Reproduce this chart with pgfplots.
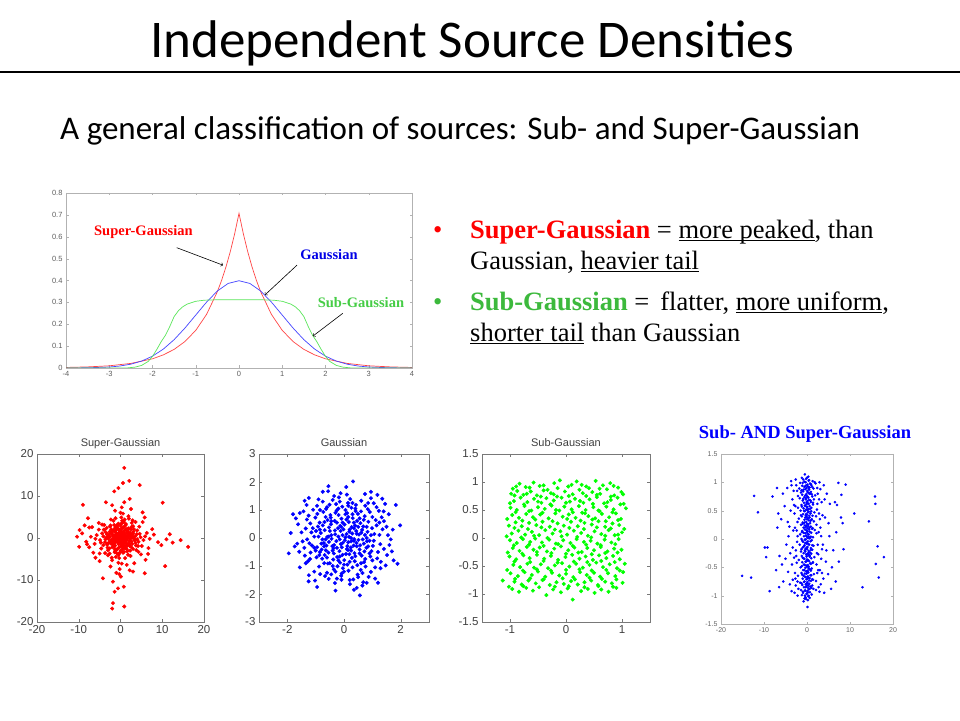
\documentclass[border=0pt]{standalone}
\usepackage{pgfplots}
\pgfplotsset{compat=1.18}
\usepackage{fontspec}
\setmainfont{Liberation Serif}
\newfontfamily\calibri{Carlito}
\newfontfamily\arial{Liberation Sans}
\newcommand{\uline}[1]{\underline{\smash{#1}}}

\definecolor{supred}{RGB}{255,0,0}
\definecolor{subgreen}{RGB}{60,185,60}
\definecolor{lblgreen}{RGB}{70,205,70}
\definecolor{lblblue}{RGB}{0,0,230}
\definecolor{curvered}{RGB}{255,70,70}
\definecolor{curveblue}{RGB}{70,70,255}
\definecolor{curvegreen}{RGB}{90,230,90}
\definecolor{axgray}{RGB}{120,120,120}
\definecolor{lblgray}{RGB}{64,64,64}

\pgfplotsset{
  mat/.style={
    scale only axis, anchor=south west,
    axis line style={draw=axgray}, tick style={draw=axgray},
    tick align=inside, major tick length=3pt,
    ticklabel style={font=\arial\fontsize{11.5}{12}\selectfont, text=lblgray},
    /pgf/number format/assume math mode=true,
    title style={font=\arial\fontsize{11}{12}\selectfont, text=lblgray,
      at={(0.5,1)}, anchor=base, inner sep=0pt, yshift=1pt},
  },
  dots/.style={only marks, mark=*, mark size=1.8pt},
}

% density curves
\pgfplotstableread{
x y
-4 0.0001
-3.5 0.0009
-3 0.0044
-2.75 0.0091
-2.5 0.0175
-2.25 0.0317
-2 0.0540
-1.75 0.0863
-1.5 0.1295
-1.25 0.1826
-1 0.2420
-0.75 0.3011
-0.5 0.3521
-0.25 0.3867
0 0.3989
0.25 0.3867
0.5 0.3521
0.75 0.3011
1 0.2420
1.25 0.1826
1.5 0.1295
1.75 0.0863
2 0.0540
2.25 0.0317
2.5 0.0175
2.75 0.0091
3 0.0044
3.5 0.0009
4 0.0001
}\gaussdata

\pgfplotstableread{
x y
-4 0.0025
-3.5 0.005
-3 0.010
-2.5 0.021
-2 0.042
-1.75 0.060
-1.5 0.085
-1.25 0.121
-1 0.172
-0.75 0.245
-0.5 0.349
-0.4 0.402
-0.3 0.463
-0.2 0.533
-0.1 0.614
0 0.707
0.1 0.614
0.2 0.533
0.3 0.463
0.4 0.402
0.5 0.349
0.75 0.245
1 0.172
1.25 0.121
1.5 0.085
1.75 0.060
2 0.042
2.5 0.021
3 0.010
3.5 0.005
4 0.0025
}\superdata

\pgfplotstableread{
x y
-4 0
-2.6 0
-2.4 0.004
-2.25 0.012
-2.1 0.030
-2 0.053
-1.9 0.085
-1.8 0.120
-1.7 0.150
-1.6 0.190
-1.5 0.235
-1.4 0.262
-1.3 0.280
-1.2 0.292
-1 0.305
-0.8 0.310
-0.5 0.312
0 0.312
0.5 0.312
0.8 0.310
1 0.305
1.2 0.292
1.3 0.280
1.4 0.262
1.5 0.235
1.6 0.190
1.7 0.150
1.8 0.120
1.9 0.085
2 0.053
2.1 0.030
2.25 0.012
2.4 0.004
2.6 0
4 0
}\subdata

\begin{document}
\begin{tikzpicture}[x=1pt,y=1pt]
\path[use as bounding box, fill=white] (0,0) rectangle (960,720);

% title and subtitle
\node[anchor=base, inner sep=0pt, font=\calibri\fontsize{53}{60}\selectfont] at (472,662) {Independent Source Densities};
\draw[line width=2pt] (0,648) -- (960,648);
\node[anchor=base west, inner sep=0pt, font=\calibri\fontsize{33}{38}\selectfont] at (60,580) {A general classification of sources: Sub- and Super-Gaussian};

% bullets
\begin{scope}[every node/.style={anchor=base west, inner sep=0pt, font=\fontsize{26.5}{31}\selectfont}]
\node[text=supred] at (433,481) {•};
\node at (470,481) {\textbf{\color{supred}Super-Gaussian} = \uline{more peaked}, than};
\node at (470,450) {Gaussian, \uline{heavier tail}};
\node[text=subgreen] at (433,409) {•};
\node at (470,409) {\textbf{\color{subgreen}Sub-Gaussian} =\, flatter, \uline{more uniform},};
\node at (470,378) {\uline{shorter tail} than Gaussian};
\end{scope}

% density plot
\begin{axis}[mat, at={(66pt,352pt)}, width=346pt, height=175pt,
  xmin=-4, xmax=4, ymin=0, ymax=0.8,
  xtick={-4,-3,-2,-1,0,1,2,3,4},
  ytick={0,0.1,0.2,0.3,0.4,0.5,0.6,0.7,0.8},
  axis line style={draw=gray!60}, tick style={draw=gray!60},
  major tick length=2.5pt,
  ticklabel style={font=\arial\fontsize{7.5}{8}\selectfont, text=gray!75!black}]
\addplot[curvered, line width=0.7pt] table {\superdata};
\addplot[curveblue, line width=0.7pt] table {\gaussdata};
\addplot[curvegreen, line width=0.7pt] table {\subdata};
\node[text=supred, font=\bfseries\fontsize{14.5}{16}\selectfont] at (axis cs:-2.21,0.62) {Super-Gaussian};
\node[text=lblblue, font=\bfseries\fontsize{14.5}{16}\selectfont] at (axis cs:2.08,0.517) {Gaussian};
\node[text=lblgreen, font=\bfseries\fontsize{14.5}{16}\selectfont] at (axis cs:2.82,0.297) {Sub-Gaussian};
\draw[->, line width=0.6pt] (axis cs:-1.44,0.55) -- (axis cs:-0.37,0.47);
\draw[->, line width=0.6pt] (axis cs:1.34,0.47) -- (axis cs:0.6,0.334);
\draw[->, line width=0.6pt] (axis cs:2.4,0.25) -- (axis cs:1.71,0.146);
\end{axis}

% super-gaussian scatter
\begin{axis}[mat, at={(37pt,98pt)}, width=167pt, height=168pt,
  xmin=-20, xmax=20, ymin=-20, ymax=20,
  xtick={-20,-10,0,10,20}, ytick={-20,-10,0,10,20},
  title={Super-Gaussian}]
\addplot[dots, color=supred] coordinates {
(0,0) (0.4,0.2) (-0.3,0.5) (0.8,-0.3) (-0.9,-0.2) (0.2,-0.7) (-0.1,1.0) (1.2,0.6) (-1.3,0.7) (0.6,-1.2)
(-0.6,-1.1) (1.4,-0.5) (-1.5,0.1) (0.1,1.4) (-0.4,-1.5) (0.9,1.1) (-1.0,1.2) (1.1,-1.0) (-1.1,-0.9) (0.5,0.8)
(-0.7,0.1) (0.3,-0.2) (-0.2,-0.4) (1.0,0.1) (-0.5,0.9) (0.7,-0.6) (-1.2,-0.4) (0.0,0.6) (0.2,1.2) (-0.8,-0.8)
(2.0,0.3) (-2.1,-0.4) (0.3,2.2) (-0.4,-2.3) (1.8,1.6) (-1.7,1.9) (1.6,-1.8) (-1.9,-1.6) (2.6,-0.8) (-2.7,0.9)
(0.9,2.7) (-1.0,-2.8) (2.4,1.2) (-2.3,-1.3) (1.3,-2.4) (-1.2,2.5) (2.9,0.1) (-2.9,-0.2) (0.0,2.9) (0.1,-3.0)
(2.2,-1.9) (-2.2,2.0) (1.9,2.3) (-2.0,-2.2) (1.7,0.0) (-1.6,0.4) (0.4,-1.8) (-0.2,1.7) (2.5,2.0) (-2.6,1.5)
(1.5,-2.7) (-1.4,-2.6) (2.8,-1.4) (-2.9,-1.2) (0.7,-2.1) (-0.6,2.3) (1.1,1.9) (-1.3,-1.8) (2.1,-0.6) (-1.9,0.7)
(0.15,0.35) (-0.35,-0.15) (0.55,-0.45) (-0.65,0.45) (0.25,0.85) (-0.15,-0.95) (0.95,0.45) (-0.95,0.55) (0.45,-0.95) (-0.45,-0.65)
(1.25,-0.25) (-1.25,0.15) (0.05,1.75) (0.15,-2.0) (1.5,1.3) (-1.5,-1.3) (1.4,-1.4) (-1.3,1.5) (2.3,0.6) (-2.4,-0.7)
(0.6,2.5) (-0.7,-2.6) (2.0,-1.2) (-2.1,1.1) (1.0,-1.9) (-1.0,2.0) (0.85,-0.85) (-0.85,0.95) (0.35,0.05) (-0.05,-0.25)
(0.65,0.35) (-0.55,-0.35) (1.6,0.45) (-1.7,-0.15) (0.5,-1.55) (-0.3,1.3) (1.9,0.9) (-2.0,-0.9) (0.9,-2.4) (-0.8,2.8)
(2.7,0.6) (-2.8,0.3) (3.0,1.0) (-3.1,-1.4) (1.2,3.0) (-1.3,-3.1) (0.6,-3.5) (-0.5,3.4) (3.6,-1.2) (-3.5,1.3)
(2.3,-3.0) (-2.4,3.0) (3.0,2.8) (-3.0,-2.9) (1.1,0.4) (-0.4,1.1) (0.2,-1.3) (-1.1,-0.1) (0.0,-0.5) (0.5,0.0)
(-0.2,0.2) (0.7,1.5) (-1.6,-0.6) (1.3,-0.9)
(2.2,1.0) (-2.3,-1.0) (1.0,-2.2) (-1.1,2.3) (3.3,-0.2) (-3.4,0.1) (0.2,3.4) (-0.1,-3.4) (2.6,2.6) (-2.7,-2.5)
(2.6,-2.2) (-2.5,2.7) (4.0,-0.3) (-4.1,0.4) (0.4,4.1) (-0.5,-4.0) (3.1,1.5) (-3.2,-1.6) (1.6,-3.2) (-1.5,3.1)
(4.6,1.0) (-4.7,-1.1) (1.1,-4.8) (-1.2,4.7) (3.6,3.8) (-3.7,-3.6) (5.1,-1.9) (-5.2,2.0) (1.9,5.2) (-2.0,-5.3)
(5.9,0.4) (-6.0,-0.2) (0.0,6.0) (0.3,-6.1) (4.3,-3.3) (-4.4,3.2) (2.9,4.2) (-3.0,-4.1) (1.4,2.1) (-1.5,-2.0)
(2.1,-1.5) (-2.0,1.4) (0.8,3.8) (-0.9,-3.6) (3.7,-1.8) (-3.8,1.9) (2.4,-0.1) (-2.5,0.3) (0.5,-2.6) (-0.4,2.0)
(3.5,0.4) (-3.6,-0.3) (0.5,3.7) (-0.4,-3.8) (3.2,2.1) (-3.3,2.4) (3.0,-2.6) (-3.1,-2.3) (4.3,-0.9) (-4.4,1.1)
(1.0,4.4) (-1.1,-4.5) (4.0,1.8) (-4.1,-1.7) (1.8,-4.0) (-1.7,4.1) (4.8,0.2) (-4.9,-0.5) (0.2,4.9) (-0.3,-4.8)
(3.8,-2.9) (-3.9,3.1) (2.7,3.6) (-2.6,-3.7) (3.4,-0.6) (-3.2,0.8) (0.8,-3.3) (-0.7,3.2) (4.5,2.7) (-4.6,-2.5)
(2.4,-4.3) (-2.3,4.4) (3.9,0.9) (-3.7,-1.0) (1.3,3.3) (-1.4,-3.4) (4.2,-1.9) (-4.0,2.0) (2.0,4.6) (-2.1,-4.7)
(5.5,-0.5) (-5.7,0.7) (0.6,5.8) (-0.5,-5.9) (6.3,1.2) (-6.2,-1.4) (1.5,-6.4) (-1.3,6.5) (7.0,-0.2) (-7.1,0.3)
(0.3,7.3) (-0.2,-7.4) (5.3,3.8) (-5.2,3.6) (4.9,-3.9) (-5.0,-3.7) (8.0,0.8) (-8.2,-0.9) (0.9,8.5) (-1.0,-8.3)
(6.7,-2.4) (-6.8,2.6) (2.5,6.9) (-2.4,-6.8) (7.6,2.1) (-7.5,-2.2) (2.2,-7.7) (-2.0,7.8) (5.8,4.9) (-6.0,-4.7)
(9.0,-1.0) (-9.2,1.1) (-8.6,3.0) (6.0,-5.2) (3.3,-6.0)
(0.9,16.7) (2.1,13.6) (0.6,13.1) (4.6,12.6) (-0.5,11.9) (-1.5,11.1) (-9.0,7.9) (10.1,8.4) (2.2,9.3) (-3.5,8.5)
(5.3,6.1) (-7.8,4.7) (-9.8,1.9) (-10.4,0.3) (-9.9,-2.1) (16.2,-2.1) (14.4,-0.5) (11.8,0.9) (12.5,-1.1) (9.8,-1.7)
(10.7,-6.7) (5.8,-8.4) (6.6,-3.8) (-4.2,-9.6) (-1.8,-10.4) (-1.4,-12.8) (-0.6,-12.0) (0.8,-11.6) (-1.8,-15.5) (-2.0,-16.8)
(0.9,-16.3) (-0.3,-8.6) (0.1,-9.2) (-7.5,2.5) (-6.5,-3.5) (3.0,-8.0) (-5.0,-5.5) (11.0,-0.3) (-8.0,-1.5)
};
\end{axis}

% gaussian scatter
\begin{axis}[mat, at={(259pt,98pt)}, width=170pt, height=168pt,
  xmin=-3, xmax=3, ymin=-3, ymax=3,
  xtick={-2,0,2}, ytick={-3,-2,-1,0,1,2,3},
  title={Gaussian}]
\addplot[dots, color=blue] coordinates {
(0.32,2.02) (-0.56,1.67) (0.74,1.57) (1.18,1.54) (1.83,1.18) (-1.88,0.18) (-1.74,-0.30) (-1.56,-1.05) (-1.24,-1.33) (0.56,-2.05)
(1.89,-0.92) (1.47,-0.98) (1.69,-0.48) (1.72,0.30) (1.41,0.60) (0.80,-1.60) (0.68,-1.58) (-0.32,-1.61) (-0.54,-1.46) (-0.09,-1.49)
(-1.24,1.43) (-1.39,1.33) (-1.56,0.89)
(0.05,0.02) (-0.21,0.35) (0.44,-0.18) (-0.62,-0.27) (0.31,0.71) (-0.15,-0.66) (0.83,0.22) (-0.92,0.41) (0.12,-0.95) (0.58,0.53)
(-0.48,0.82) (0.97,-0.47) (-0.77,-0.74) (0.26,1.08) (-1.05,0.05) (1.12,0.64) (-0.36,-1.12) (0.71,-0.86) (-1.18,-0.52) (0.02,0.48)
(-0.45,0.10) (0.37,-0.54) (-0.11,-0.22) (0.19,0.23) (0.66,-0.05) (-0.69,0.57) (0.91,0.93) (-0.28,1.21) (1.28,-0.22) (-1.31,0.66)
(0.48,-1.31) (-0.88,-1.02) (1.05,1.24) (-0.14,-0.88) (0.35,0.35) (-0.55,-0.52) (0.79,-0.35) (-0.33,0.61) (0.14,-0.43) (-0.82,0.18)
(1.36,0.31) (-1.46,-0.12) (0.22,1.39) (-0.08,-1.27) (0.95,-1.21) (-1.09,1.01) (1.52,-0.61) (-1.27,-0.83) (0.61,1.33) (-0.67,-1.36)
(0.03,-0.08) (-0.19,0.82) (0.53,0.12) (-0.41,-0.29) (0.28,-0.71) (-0.95,-0.33) (0.86,0.58) (-0.63,1.04) (1.17,-0.73) (-1.01,0.73)
(0.41,0.96) (-0.23,-1.01) (0.99,0.35) (-0.76,-0.05) (0.09,0.66) (-0.38,-0.77) (0.62,-0.63) (-0.53,0.38) (1.23,0.97) (-1.35,0.34)
(0.16,-1.17) (-0.06,1.12) (0.73,0.78) (-0.87,-0.61) (1.41,-0.39) (-1.22,-0.19) (0.47,-0.97) (-0.51,1.19) (0.18,0.04) (-0.27,-0.11)
(0.39,0.45) (-0.12,0.25) (0.24,-0.34) (-0.71,-0.18) (0.81,-0.12) (-0.58,0.64) (0.11,0.89) (-0.36,-0.55) (0.55,-0.41) (-0.99,0.25)
(1.07,0.14) (-0.18,1.45) (0.33,-1.48) (-1.43,0.95) (1.29,-1.08) (-1.62,0.49) (1.58,0.85) (0.87,-1.39) (-0.84,-1.29) (0.07,-0.57)
(-0.46,0.49) (0.64,0.29) (-0.24,-0.68) (0.46,0.61) (-0.64,-0.44) (0.93,-0.66) (-0.94,0.86) (0.25,-0.12) (-0.02,0.31) (0.12,-0.29)
(-0.31,0.13) (0.49,0.86) (-0.73,0.93) (0.76,-1.02) (-0.57,-0.91) (1.15,0.45) (-1.13,-0.27) (0.01,-0.79) (-0.09,0.69) (0.68,0.41)
(-0.44,-0.03) (0.29,0.16) (-0.16,-0.47) (0.57,-0.26) (-0.86,0.55) (1.02,-0.28) (-0.26,0.98) (0.38,-0.83) (-0.68,-0.61) (0.84,1.03)
(-0.97,-0.69) (1.25,0.11) (-1.19,0.52) (0.14,1.25) (-0.04,-1.08) (0.59,-1.14) (-0.40,1.36) (1.33,0.74) (-1.38,-0.63) (0.42,1.18)
(-0.60,-1.24) (1.60,-0.25) (-1.58,-0.49) (0.21,-1.65) (-0.12,1.60) (1.10,-1.45) (-1.02,-1.52) (1.45,1.22) (-1.32,1.18) (0.95,1.42)
(-0.90,1.38) (1.98,0.45) (-1.95,-0.55) (0.08,1.82) (0.45,-1.78) (-0.30,-1.88) (1.20,-1.60) (-1.70,0.70) (-0.75,1.65) (1.55,0.10)
(-0.20,0.05) (0.09,0.14) (0.51,-0.07) (-0.53,-0.14) (0.17,0.57) (-0.08,-0.33) (0.34,-0.27) (-0.32,0.27) (0.61,0.19) (-0.47,0.73)
(0.72,-0.48) (-0.79,-0.41) (0.43,0.25) (-0.13,0.43) (0.36,-0.04) (-0.04,-0.17) (0.27,0.39) (-0.37,-0.37) (0.19,-0.58) (-0.59,0.04)
(0.74,0.11) (-0.68,0.28)
(0.15,-0.15) (-0.25,0.55) (0.55,0.70) (-0.70,-0.90) (0.90,-0.10) (-0.10,-1.35) (0.30,-1.05) (-1.00,-0.45) (1.20,-0.50) (-0.35,1.50)
(0.65,-1.70) (-0.95,1.15) (1.40,0.95) (-1.50,0.20) (0.05,1.00) (0.80,0.40) (-0.50,0.25) (0.20,-0.85) (-0.80,-0.20) (0.45,0.15)
(-0.05,-0.60) (0.35,0.55) (-0.60,-0.70) (0.70,-0.20) (-0.30,0.90) (1.00,0.75) (-1.20,-0.75) (0.10,1.55) (0.50,-1.40) (-0.45,-1.30)
(1.30,-0.85) (-1.10,0.35) (0.85,1.25) (-0.75,1.30) (0.25,-0.45) (-0.20,-0.80) (0.60,0.95) (-0.90,0.05) (1.10,-1.05) (-0.25,-1.45)
(0.40,-0.65) (-0.65,0.75) (0.95,0.10) (-0.10,0.40) (0.15,0.75) (-0.40,-0.45) (0.75,-0.75) (-0.55,0.05) (0.30,1.25) (-0.85,-0.50)
(1.50,0.40) (-1.40,-0.35) (0.00,-1.20) (-0.15,1.30) (0.65,-1.25) (-1.25,0.80) (1.15,1.10) (-1.05,-1.20) (0.50,0.40) (-0.35,-0.25)
(0.20,0.30) (-0.05,0.10) (0.10,-0.40) (-0.50,-0.90) (0.90,-0.55) (-0.75,0.45) (0.40,1.05) (-0.30,-1.20) (0.80,0.00) (-1.30,-0.05)
(1.65,-0.05) (-1.65,-0.20) (0.35,-1.85) (-0.55,1.85) (1.35,1.40) (-1.25,-1.55) (1.75,-0.80) (-1.80,0.85) (0.95,1.65) (-0.95,-1.75)
(0.55,-0.55) (-0.45,0.60) (0.25,0.00) (-0.15,-0.05) (0.05,0.85) (-0.65,-0.05) (0.70,0.65) (-0.25,-0.35) (0.45,-0.30) (-0.85,0.30)
(1.05,-0.10) (-1.15,0.20) (0.15,1.15) (0.00,-0.95) (0.60,-0.90) (-0.60,1.10) (1.25,0.55) (-1.35,-0.90) (0.35,-0.10) (-0.05,0.55)
(0.85,-0.30) (-0.70,-0.30) (0.30,0.85) (-0.40,-1.00) (0.75,1.15) (-0.85,1.00) (1.00,-0.80) (-1.05,-0.35) (0.20,-1.50) (-0.20,1.05)
};
\end{axis}

% sub-gaussian scatter
\begin{axis}[mat, at={(482pt,98pt)}, width=168pt, height=168pt,
  xmin=-1.5, xmax=1.5, ymin=-1.5, ymax=1.5,
  xtick={-1,0,1}, ytick={-1.5,-1,-0.5,0,0.5,1,1.5},
  title={Sub-Gaussian}]
\addplot[dots, color=green] coordinates {
(-0.95,0.88) (-0.83,0.97) (-0.72,0.91) (-0.58,0.99) (-0.47,0.93) (-0.33,0.86) (-0.21,0.98) (-0.11,1.03) (0.04,0.92) (0.19,1.01) (0.28,0.95) (0.41,0.89) (0.53,1.02) (0.66,0.94) (0.79,0.98) (0.93,0.90)
(-0.98,0.79) (-0.87,0.84) (-0.76,0.77) (-0.63,0.83) (-0.52,0.76) (-0.40,0.85) (-0.27,0.80) (-0.16,0.74) (-0.02,0.83) (0.12,0.78) (0.24,0.86) (0.36,0.75) (0.47,0.82) (0.61,0.79) (0.73,0.87) (0.86,0.76) (0.99,0.82)
(-0.93,0.66) (-0.81,0.72) (-0.69,0.64) (-0.57,0.70) (-0.44,0.63) (-0.35,0.71) (-0.22,0.67) (-0.08,0.72) (0.07,0.65) (0.16,0.70) (0.31,0.63) (0.42,0.69) (0.55,0.73) (0.68,0.62) (0.80,0.68) (0.92,0.72) (1.03,0.61)
(-0.99,0.54) (-0.88,0.50) (-0.74,0.57) (-0.62,0.49) (-0.50,0.55) (-0.38,0.52) (-0.26,0.58) (-0.12,0.49) (-0.03,0.56) (0.10,0.51) (0.23,0.57) (0.35,0.50) (0.49,0.55) (0.60,0.48) (0.72,0.56) (0.85,0.51) (1.07,0.53)
(-0.96,0.41) (-0.84,0.36) (-0.71,0.43) (-0.59,0.37) (-0.46,0.42) (-0.31,0.35) (-0.19,0.44) (-0.06,0.38) (0.05,0.42) (0.17,0.36) (0.29,0.45) (0.40,0.39) (0.52,0.35) (0.64,0.43) (0.77,0.37) (0.89,0.44) (0.98,0.34)
(-1.02,0.22) (-0.90,0.28) (-0.79,0.21) (-0.66,0.27) (-0.53,0.23) (-0.42,0.29) (-0.29,0.20) (-0.15,0.26) (-0.04,0.22) (0.09,0.29) (0.21,0.21) (0.33,0.27) (0.46,0.24) (0.58,0.30) (0.70,0.20) (0.83,0.26) (0.95,0.23)
(-0.97,0.08) (-0.85,0.13) (-0.73,0.06) (-0.61,0.11) (-0.48,0.05) (-0.37,0.14) (-0.24,0.08) (-0.10,0.12) (0.02,0.06) (0.14,0.13) (0.27,0.09) (0.39,0.04) (0.51,0.12) (0.63,0.07) (0.76,0.14) (0.87,0.05) (1.00,0.10)
(-1.00,-0.04) (-0.88,-0.09) (-0.77,-0.02) (-0.64,-0.07) (-0.55,-0.01) (-0.43,-0.08) (-0.30,-0.03) (-0.18,-0.10) (-0.05,-0.04) (0.08,-0.09) (0.19,-0.02) (0.32,-0.07) (0.44,-0.05) (0.56,-0.10) (0.69,-0.03) (0.81,-0.08) (0.94,-0.02)
(-0.95,-0.18) (-0.83,-0.23) (-0.70,-0.16) (-0.58,-0.21) (-0.47,-0.17) (-0.34,-0.24) (-0.21,-0.19) (-0.09,-0.15) (0.04,-0.22) (0.15,-0.17) (0.28,-0.25) (0.38,-0.18) (0.50,-0.22) (0.62,-0.16) (0.74,-0.24) (0.86,-0.19) (0.99,-0.21)
(-1.01,-0.33) (-0.89,-0.38) (-0.76,-0.31) (-0.65,-0.36) (-0.52,-0.30) (-0.39,-0.37) (-0.27,-0.32) (-0.14,-0.39) (-0.01,-0.34) (0.11,-0.30) (0.24,-0.37) (0.35,-0.33) (0.48,-0.39) (0.59,-0.31) (0.72,-0.36) (0.84,-0.32) (0.96,-0.38)
(-0.94,-0.48) (-0.82,-0.52) (-0.69,-0.46) (-0.57,-0.53) (-0.45,-0.47) (-0.32,-0.54) (-0.20,-0.49) (-0.07,-0.45) (0.06,-0.51) (0.18,-0.46) (0.30,-0.53) (0.42,-0.48) (0.54,-0.44) (0.66,-0.52) (0.78,-0.47) (0.91,-0.54) (1.05,-0.46)
(-0.99,-0.63) (-0.86,-0.68) (-0.74,-0.61) (-0.61,-0.66) (-0.50,-0.60) (-0.37,-0.69) (-0.25,-0.62) (-0.12,-0.67) (0.00,-0.64) (0.13,-0.70) (0.25,-0.61) (0.37,-0.66) (0.50,-0.62) (0.61,-0.69) (0.75,-0.63) (0.88,-0.68) (1.02,-0.61)
(-1.13,-0.76) (-0.92,-0.78) (-0.79,-0.83) (-0.67,-0.76) (-0.54,-0.81) (-0.42,-0.75) (-0.29,-0.84) (-0.17,-0.79) (-0.04,-0.82) (0.09,-0.77) (0.21,-0.83) (0.33,-0.79) (0.45,-0.76) (0.57,-0.84) (0.70,-0.78) (0.82,-0.81) (1.01,-0.80)
(-0.96,-0.91) (-0.84,-0.96) (-0.71,-0.89) (-0.59,-0.94) (-0.35,-1.02) (-0.23,-0.92) (-0.09,-0.97) (0.03,-0.90) (0.12,-1.10) (0.27,-0.95) (0.39,-0.91) (0.51,-0.98) (0.63,-0.92) (0.76,-0.96) (0.90,-0.89)
(-0.89,0.92) (-0.65,0.90) (-0.40,0.94) (-0.15,0.89) (0.10,0.95) (0.36,0.92) (0.60,0.88) (0.85,0.93)
(-0.92,0.76) (-0.70,0.79) (-0.45,0.74) (-0.22,0.78) (0.05,0.75) (0.30,0.80) (0.55,0.77) (0.80,0.74) (1.02,0.78)
(-1.00,0.62) (-0.75,0.60) (-0.50,0.65) (-0.28,0.60) (0.00,0.63) (0.25,0.66) (0.48,0.61) (0.74,0.64) (0.97,0.60)
(-0.90,0.46) (-0.66,0.48) (-0.42,0.45) (-0.18,0.50) (0.12,0.46) (0.34,0.44) (0.58,0.49) (0.83,0.46)
(-1.05,0.34) (-0.78,0.31) (-0.55,0.33) (-0.24,0.30) (0.02,0.34) (0.26,0.31) (0.47,0.33) (0.71,0.30) (0.93,0.32)
(-0.92,0.18) (-0.68,0.16) (-0.44,0.19) (-0.20,0.15) (0.06,0.18) (0.32,0.16) (0.55,0.19) (0.80,0.17) (1.04,0.16)
(-1.06,0.03) (-0.80,0.01) (-0.57,0.04) (-0.33,0.00) (-0.08,0.03) (0.20,0.02) (0.45,0.01) (0.70,0.04) (0.93,0.06)
(-0.93,-0.13) (-0.66,-0.12) (-0.40,-0.14) (-0.14,-0.11) (0.12,-0.14) (0.36,-0.12) (0.62,-0.13) (0.88,-0.11)
(-1.04,-0.26) (-0.78,-0.28) (-0.52,-0.25) (-0.26,-0.27) (0.00,-0.28) (0.22,-0.26) (0.46,-0.29) (0.70,-0.27) (0.92,-0.26)
(-0.92,-0.42) (-0.64,-0.43) (-0.40,-0.41) (-0.15,-0.44) (0.14,-0.42) (0.38,-0.43) (0.63,-0.41) (0.87,-0.43)
(-1.05,-0.57) (-0.77,-0.58) (-0.52,-0.56) (-0.27,-0.58) (0.00,-0.57) (0.24,-0.56) (0.46,-0.58) (0.72,-0.57) (0.96,-0.58)
(-0.91,-0.73) (-0.64,-0.72) (-0.40,-0.74) (-0.06,-0.72) (0.16,-0.74) (0.42,-0.71) (0.64,-0.73) (0.90,-0.74)
(-1.02,-0.87) (-0.76,-0.86) (-0.48,-0.88) (-0.20,-0.87) (0.05,-0.86) (0.33,-0.88) (0.58,-0.86) (0.84,-0.87)
};
\end{axis}

% sub- and super-gaussian scatter
\node[anchor=base, inner sep=0pt, text=blue, font=\bfseries\fontsize{18.5}{20}\selectfont] at (805,281) {Sub- AND Super-Gaussian};
\begin{axis}[mat, at={(721pt,96pt)}, width=172pt, height=170pt,
  xmin=-20, xmax=20, ymin=-1.5, ymax=1.5,
  xtick={-20,-10,0,10,20}, ytick={-1.5,-1,-0.5,0,0.5,1,1.5},
  axis line style={draw=gray!60}, tick style={draw=gray!60},
  major tick length=2.5pt,
  ticklabel style={font=\arial\fontsize{7}{8}\selectfont, text=gray!80!black}]
\addplot[only marks, mark=*, mark size=1.1pt, color=blue] coordinates {
(-0.5,1.14) (0.3,1.10) (-1.2,1.08) (-0.9,1.05) (0.4,1.03) (1.3,1.02) (-0.2,1.06)
(-1.6,0.99) (-0.3,1.00) (0.7,0.98) (1.8,1.00) (0.1,0.96) (-1.1,0.94) (0.2,0.93) (1.0,0.95) (-0.6,0.92) (0.6,0.91)
(-1.8,0.89) (-0.4,0.88) (0.5,0.87) (1.5,0.89) (-0.1,0.90) (-0.9,0.84) (0.1,0.85) (0.9,0.83) (-1.4,0.82) (0.4,0.81)
(-0.2,0.79) (-1.1,0.78) (0.7,0.80) (1.9,0.77) (0.0,0.76) (-0.6,0.74) (0.3,0.73) (1.2,0.75) (-1.7,0.72)
(-0.3,0.70) (0.5,0.69) (-1.0,0.68) (1.6,0.70) (0.1,0.67) (-0.7,0.64) (0.2,0.63) (0.9,0.65) (-0.1,0.62)
(-1.3,0.60) (-0.4,0.59) (0.6,0.58) (1.4,0.61) (0.0,0.57) (-0.8,0.54) (0.3,0.53) (1.0,0.55) (-0.2,0.52)
(-1.5,0.50) (-0.5,0.49) (0.4,0.48) (1.7,0.47) (0.1,0.51) (-0.9,0.44) (0.0,0.43) (0.8,0.45) (-0.3,0.42)
(-1.2,0.40) (-0.1,0.39) (0.6,0.38) (1.3,0.41) (0.2,0.37) (-0.6,0.34) (0.4,0.33) (1.1,0.35) (-1.9,0.36)
(-0.2,0.30) (-1.0,0.29) (0.7,0.28) (1.6,0.31) (0.0,0.27) (-0.5,0.24) (0.3,0.23) (-1.4,0.25) (0.9,0.22)
(-0.8,0.20) (0.1,0.19) (1.2,0.18) (-0.3,0.21) (0.5,0.17) (-1.1,0.14) (-0.1,0.15) (0.6,0.13) (1.8,0.16)
(-0.4,0.10) (0.2,0.09) (1.0,0.11) (-1.6,0.08) (0.0,0.12) (-0.7,0.05) (0.4,0.04) (-0.2,0.06) (1.4,0.03)
(-1.3,0.00) (-0.3,-0.01) (0.5,0.01) (1.1,-0.02) (0.1,0.02) (-0.9,-0.05) (0.0,-0.06) (0.8,-0.04) (-0.4,-0.07)
(-1.7,-0.10) (-0.6,-0.11) (0.3,-0.09) (1.5,-0.12) (-0.1,-0.08) (-1.0,-0.15) (0.1,-0.14) (0.9,-0.16) (-0.3,-0.17)
(-0.5,-0.20) (0.4,-0.21) (1.2,-0.19) (-1.4,-0.22) (0.0,-0.18) (-0.8,-0.25) (0.2,-0.26) (0.7,-0.24) (-0.2,-0.27)
(-1.2,-0.30) (-0.1,-0.31) (0.6,-0.29) (1.7,-0.32) (0.3,-0.28) (-0.6,-0.35) (0.0,-0.36) (1.0,-0.34) (-1.9,-0.37)
(-0.3,-0.40) (-1.1,-0.41) (0.5,-0.39) (1.3,-0.42) (0.1,-0.38) (-0.7,-0.45) (0.2,-0.46) (0.9,-0.44) (-0.1,-0.47)
(-1.5,-0.50) (-0.4,-0.51) (0.4,-0.49) (1.1,-0.52) (0.0,-0.48) (-0.9,-0.55) (0.1,-0.56) (0.7,-0.54) (-0.2,-0.57)
(-1.3,-0.60) (-0.5,-0.61) (0.3,-0.59) (1.6,-0.62) (0.0,-0.58) (-0.8,-0.65) (0.2,-0.66) (1.0,-0.64) (-0.3,-0.67)
(-1.0,-0.70) (-0.1,-0.71) (0.6,-0.69) (1.4,-0.72) (0.3,-0.68) (-0.6,-0.75) (0.1,-0.76) (0.9,-0.74) (-1.6,-0.77)
(-0.3,-0.80) (-1.1,-0.81) (0.5,-0.79) (1.2,-0.82) (0.0,-0.78) (-0.7,-0.85) (0.2,-0.86) (0.8,-0.84) (-0.1,-0.83)
(-1.4,-0.90) (-0.4,-0.91) (0.4,-0.89) (1.5,-0.88) (0.1,-0.92) (-0.9,-0.95) (0.0,-0.96) (0.7,-0.94)
(-0.5,-1.00) (0.3,-1.01) (-1.2,-0.99) (-0.2,-1.06) (0.6,-1.04) (-0.8,-1.10) (0.2,-1.08) (0.1,-1.20)
(0.0,1.08) (-0.6,1.01) (0.9,0.97) (-0.3,0.94) (0.4,0.90) (-0.8,0.87) (0.1,0.83) (0.6,0.80) (-0.4,0.77) (0.2,0.74)
(-0.9,0.71) (0.8,0.68) (-0.1,0.65) (0.4,0.62) (-0.5,0.59) (0.0,0.56) (0.7,0.53) (-0.7,0.50) (0.2,0.47) (-0.2,0.44)
(0.5,0.41) (-0.4,0.38) (0.0,0.35) (0.8,0.32) (-0.6,0.29) (0.3,0.26) (-0.1,0.23) (0.6,0.20) (-0.5,0.17) (0.1,0.14)
(-0.8,0.11) (0.4,0.08) (-0.1,0.05) (0.7,0.02) (-0.5,-0.01) (0.2,-0.04) (-0.2,-0.07) (0.5,-0.10) (-0.7,-0.13) (0.0,-0.16)
(0.9,-0.19) (-0.4,-0.22) (0.3,-0.25) (-0.1,-0.28) (0.6,-0.31) (-0.8,-0.34) (0.2,-0.37) (-0.3,-0.40) (0.7,-0.43) (-0.5,-0.46)
(0.0,-0.49) (0.4,-0.52) (-0.6,-0.55) (0.2,-0.58) (-0.1,-0.61) (0.8,-0.64) (-0.4,-0.67) (0.1,-0.70) (0.5,-0.73) (-0.7,-0.76)
(0.0,-0.79) (0.3,-0.82) (-0.3,-0.85) (0.6,-0.88) (-0.5,-0.91) (0.2,-0.94) (-0.1,-0.97) (0.4,-1.00) (-0.3,-1.03)
(0.5,1.04) (-1.0,0.99) (1.2,0.92) (-1.3,0.86) (1.1,0.79) (-0.2,0.72) (1.4,0.64) (-1.2,0.57) (1.0,0.49) (-1.4,0.42)
(1.1,0.34) (-1.0,0.27) (1.3,0.19) (-1.2,0.12) (0.9,0.04) (-1.1,-0.03) (1.2,-0.11) (-1.3,-0.18) (1.0,-0.26) (-1.0,-0.33)
(1.4,-0.41) (-1.2,-0.48) (0.9,-0.56) (-1.1,-0.63) (1.2,-0.71) (-1.3,-0.78) (1.0,-0.86) (-1.0,-0.93) (1.1,-0.98) (-0.6,-1.05)
(-2.3,0.85) (2.5,0.80) (-2.8,0.20) (3.0,0.35) (-3.5,-0.45) (3.3,-0.35) (-2.2,-0.75) (2.7,-0.85) (-3.0,0.60) (2.2,0.10)
(-2.5,-0.30) (3.4,0.65) (-3.8,0.50) (3.7,-0.10) (-2.9,-0.95) (2.3,-0.25) (-2.6,1.05) (2.9,1.00) (-2.4,0.15) (2.6,-0.55)
(-3.3,-0.15) (3.1,0.20) (-2.1,0.55) (2.1,-0.90) (-2.7,-0.70) (2.8,0.45) (-4.0,-0.80) (4.1,0.70) (-3.6,0.95) (3.5,-0.60)
(-2.2,-1.00) (2.4,0.90) (-4.5,0.30) (4.5,-0.20) (-5.0,-0.35) (5.2,0.05) (-5.6,0.80) (5.8,-0.50)
(-2.5,0.95) (3.1,0.88) (-3.4,0.70) (2.4,0.62) (-2.9,0.45) (4.2,0.38) (-4.1,0.22) (2.7,0.12) (-2.3,-0.05) (3.5,-0.18)
(-3.0,-0.33) (2.2,-0.45) (-4.4,-0.58) (3.8,-0.70) (-2.6,-0.82) (2.9,-0.93) (-3.7,1.02) (4.6,0.80) (-5.2,0.58) (5.0,0.28)
(-4.8,-0.10) (4.4,-0.40) (-5.5,-0.75) (5.6,-0.88) (-2.2,0.30) (2.3,0.52) (-2.8,-0.60) (3.3,0.05) (-3.6,-0.92) (2.6,-0.27)
(-2.1,0.76) (2.1,-0.74) (-6.0,0.35) (6.1,-0.20) (-3.2,0.15) (3.9,0.95) (-4.6,0.90) (4.9,-0.62) (-2.4,-0.42) (2.8,0.70)
(-3.9,-0.25) (3.0,-0.55) (-5.8,-0.45) (5.3,0.62) (-2.7,0.58) (2.5,-0.10) (-3.3,-0.72) (3.6,0.42) (-4.3,0.05) (4.0,-0.95)
(-2.0,-0.88) (2.0,0.98) (-2.2,0.05) (2.2,0.25) (-2.6,-0.20) (2.4,-0.60) (-3.1,0.85) (3.2,-0.80) (-2.1,-0.65) (2.1,0.40)
(-12.3,0.76) (-11.4,0.47) (-13.0,-0.68) (-15.1,-0.65) (-9.8,-0.15) (-9.2,-0.15) (-9.5,-0.32) (-8.7,-0.92) (11.0,0.45) (14.4,0.31)
(15.8,0.75) (15.9,0.62) (16.4,-0.13) (17.9,-0.32) (16.0,-0.44) (16.7,-0.68) (12.9,-0.85) (9.0,0.96) (7.3,0.99) (8.3,0.28)
(8.0,0.78) (-7.0,0.90) (-8.0,0.75) (-6.7,0.45) (-7.2,-0.55) (6.8,0.12) (7.4,-0.40) (8.5,-0.18) (6.5,0.65) (-6.5,-0.85)
(7.0,0.60) (-6.9,0.20) (-6.4,-0.30) (6.7,-0.75) (7.9,0.38)
};
\end{axis}
\end{tikzpicture}
\end{document}
